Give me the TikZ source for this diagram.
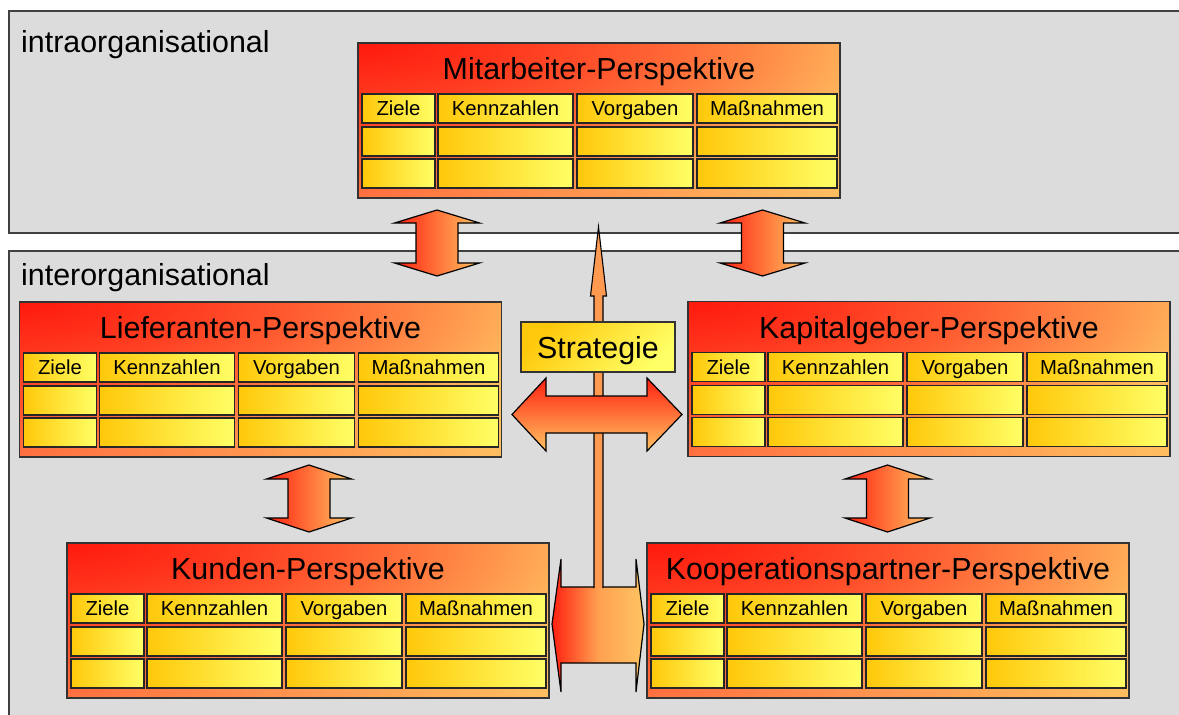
\documentclass[tikz,border=0pt]{standalone}
\usepackage{fontspec}
\setmainfont{Liberation Sans}
\usetikzlibrary{calc,fadings}
\definecolor{layerfill}{HTML}{DCDCDC}
\definecolor{layerline}{HTML}{404040}
\definecolor{pRed}{HTML}{FF1A0E}
\definecolor{pLeft}{HTML}{FF7040}
\definecolor{pRight}{HTML}{FFBE60}
\definecolor{cGold}{HTML}{FFC80A}
\definecolor{cPale}{HTML}{FFFF66}
\definecolor{aRed}{HTML}{FF2010}
\definecolor{aMid}{HTML}{FFA050}
\definecolor{aLight}{HTML}{FFC462}
\definecolor{shaftorange}{HTML}{FF9A50}
\tikzfading[name=cornerglow, inner color=transparent!0, outer color=transparent!100]
\tikzset{
  layer/.style={fill=layerfill, draw=layerline, line width=1.4pt},
  layerlabel/.style={anchor=base west, inner sep=0pt, font=\fontsize{30.4}{30.4}\selectfont},
  pbox/.style={rectangle, minimum width=482pt, minimum height=155pt,
    inner sep=0pt, outer sep=0pt, left color=pLeft, right color=pRight},
  pboxline/.style={draw=black!80, line width=1.2pt},
  ptitle/.style={anchor=base, inner sep=0pt, font=\fontsize{30.4}{30.4}\selectfont},
  cell/.style={rectangle, draw=black!85, line width=1.1pt, minimum height=29pt, inner sep=0pt, outer sep=0pt,
    left color=cGold, right color=cPale},
  celltext/.style={anchor=base, inner sep=0pt, font=\fontsize{20.3}{20.3}\selectfont},
  stratbox/.style={rectangle, draw=black!80, line width=1.2pt, minimum width=154pt, minimum height=50pt,
    inner sep=0pt, top color=cGold, bottom color=cPale, shading angle=45},
  blockarrow/.style={draw=black, line width=1.2pt, line join=miter},
}
\newcommand\perspbox[4]{%
  \node[pbox, anchor=north west] (#1) at (#2,#3) {};
  \begin{scope}
    \clip (#1.north west) rectangle (#1.south east);
    \fill[pRed, path fading=cornerglow] ($(#1.north west)+(-540,-150)$) rectangle ($(#1.north west)+(540,150)$);
  \end{scope}
  \draw[pboxline] (#1.north west) rectangle (#1.south east);
  \node[ptitle] (#1-title) at ($(#1.north west)+(241,36.5)$) {#4};
  \foreach \cx/\cw/\lab [count=\ci] in {4/73/Ziele,80/135/Kennzahlen,219/116/Vorgaben,339/140/Maßnahmen}{%
    \node[cell, minimum width=\cw pt, anchor=north west] (#1-h\ci) at ($(#1.north west)+(\cx,51)$) {};
    \node[celltext] (#1-t\ci) at ($(#1-h\ci.center)+(0,7.2)$) {\lab};
    \node[cell, minimum width=\cw pt, anchor=north west] (#1-a\ci) at ($(#1.north west)+(\cx,84)$) {};
    \node[cell, minimum width=\cw pt, anchor=north west] (#1-b\ci) at ($(#1.north west)+(\cx,116)$) {};
  }%
}
\newcommand\vdarrow[5]{% center x, top tip, head base 1, head base 2, bottom tip
  \draw[blockarrow, left color=aRed, right color=aLight]
    (#1,#2) -- ({#1+42.5},#3) -- ({#1+21},#3) -- ({#1+21},#4) -- ({#1+42.5},#4) -- (#1,#5)
    -- ({#1-42.5},#4) -- ({#1-21},#4) -- ({#1-21},#3) -- ({#1-42.5},#3) -- cycle;
}
\begin{document}
\begin{tikzpicture}[x=1pt,y=-1pt]
\useasboundingbox (0,0) rectangle (1179,715);
\fill[white] (0,0) rectangle (1179,715);
% layers
\draw[layer] (9,11) rectangle (1195,233);
\draw[layer] (9,251) rectangle (1195,730);
\node[layerlabel] (intra) at (21,52.5) {intraorganisational};
\node[layerlabel] (inter) at (21,285) {interorganisational};
% vertical double arrows
\vdarrow{437}{210}{223}{263}{276}
\vdarrow{762.5}{210}{223}{263}{276}
\vdarrow{309}{465}{479}{518}{532}
\vdarrow{887.5}{465}{479}{518}{532}
% perspective boxes
\perspbox{M}{358}{43}{Mitarbeiter-Perspektive}
\perspbox{L}{19.5}{302}{Lieferanten-Perspektive}
\perspbox{K}{688}{301.5}{Kapitalgeber-Perspektive}
\perspbox{Ku}{67}{543}{Kunden-Perspektive}
\perspbox{Ko}{647}{543}{Kooperationspartner-Perspektive}
% bottom double arrow
\draw[blockarrow, left color=aRed, right color=aLight, middle color=aMid]
  (552,624) -- (561,559) -- (561,587) -- (636,587) -- (636,559) -- (644,624)
  -- (636,692) -- (636,663) -- (561,663) -- (561,692) -- cycle;
% thin strategy arrow
\fill[shaftorange] (594,588.5) -- (594,296) -- (590.5,296) -- (598.5,227) -- (606.5,296) -- (603,296) -- (603,588.5) -- cycle;
\draw[line width=1.1pt, line join=miter] (594,588) -- (594,296) -- (590.5,296) -- (598.5,227) -- (606.5,296) -- (603,296) -- (603,588);
% Strategie box
\node[stratbox] (strat) at (598,347) {};
\node[ptitle] (strattext) at (598,358.3) {Strategie};
% middle horizontal double arrow
\draw[blockarrow, top color=aRed, bottom color=aLight]
  (512,414.5) -- (546,378) -- (546,396) -- (647,396) -- (647,378) -- (682,414.5)
  -- (647,451) -- (647,433) -- (546,433) -- (546,451) -- cycle;
\end{tikzpicture}
\end{document}
